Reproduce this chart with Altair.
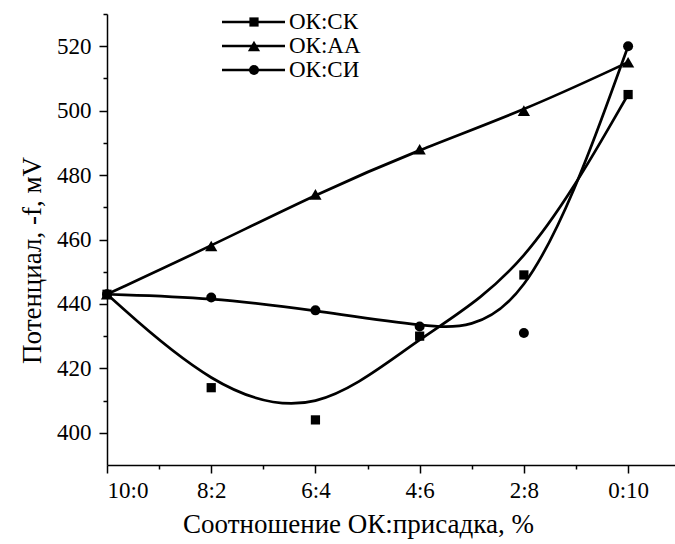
import json
import altair as alt
import pandas as pd

x_labels = ["10:0", "8:2", "6:4", "4:6", "2:8", "0:10"]
x_pos = [0, 1, 2, 3, 4, 5]
series_names = ["ОК:СК", "ОК:АА", "ОК:СИ"]
sk = [443, 414, 404, 430, 449, 505]
aa = [443, 458, 474, 488, 500, 515]
si = [443, 442, 438, 433, 431, 520]
shapes = ["square", "triangle-up", "circle"]
marker_sizes = [85, 150, 100]
y_ticks = list(range(400, 531, 10))
x_ticks = [i / 2 for i in range(0, 11)]

rows = []
for name, vals in zip(series_names, [sk, aa, si]):
    for xi, v in zip(x_pos, vals):
        rows.append({"series": name, "x": xi, "y": v})
df = pd.DataFrame(rows)

leg_df = pd.DataFrame({"series": series_names, "row": [0, 1, 2]})

FONT = "Liberation Serif"
FS = 23
TFS = 27
LW = 2.7

label_expr = "datum.value % 1 === 0 ? " + json.dumps(x_labels) + "[datum.value] : ''"

x_enc = alt.X(
    "x:Q",
    scale=alt.Scale(domain=[0, 5.45], nice=False, zero=False),
    axis=alt.Axis(
        values=x_ticks,
        labelExpr=label_expr,
        tickSize={"condition": {"test": "datum.value % 1 === 0", "value": 8}, "value": 4},
        labelPadding=6,
        labelOverlap=False,
        title="Соотношение ОК:присадка, %",
        titlePadding=9,
        titleX=251,
    ),
)
y_enc = alt.Y(
    "y:Q",
    scale=alt.Scale(domain=[390, 530], nice=False, zero=False),
    axis=alt.Axis(
        values=y_ticks,
        labelExpr="datum.value % 20 === 0 ? datum.label : ''",
        tickSize={"condition": {"test": "datum.value % 20 === 0", "value": 8}, "value": 4},
        labelPadding=8,
        labelOverlap=False,
        title="Потенциал, -f, мV",
        titlePadding=10,
        titleY=246,
    ),
)

lines = alt.Chart(df).mark_line(interpolate="basis", color="black", strokeWidth=LW).encode(
    x=x_enc, y=y_enc, detail="series:N"
)
layers = [lines]
for name, shp, sz in zip(series_names, shapes, marker_sizes):
    layers.append(
        alt.Chart(df).transform_filter(alt.datum.series == name)
        .mark_point(filled=True, color="black", opacity=1, shape=shp, size=sz)
        .encode(x=x_enc, y=y_enc)
    )
main = alt.layer(*layers)

leg_y = alt.Y("row:Q", scale=alt.Scale(domain=[0, 2], range=[8, 56]), axis=None)
leg_layers = [
    alt.Chart(leg_df).mark_rule(color="black", strokeWidth=LW).encode(
        x=alt.value(115), x2=alt.value(178), y=leg_y
    )
]
for name, shp, sz in zip(series_names, shapes, marker_sizes):
    leg_layers.append(
        alt.Chart(leg_df).transform_filter(alt.datum.series == name)
        .mark_point(filled=True, color="black", opacity=1, shape=shp, size=sz)
        .encode(x=alt.value(147), y=leg_y)
    )
leg_layers.append(
    alt.Chart(leg_df).mark_text(
        align="left", baseline="middle", font=FONT, fontSize=FS, color="black"
    ).encode(x=alt.value(182), y=leg_y, text="series:N")
)
legend = alt.layer(*leg_layers)

chart = (
    alt.layer(main, legend)
    .resolve_scale(y="independent")
    .properties(
        width=568,
        height=451,
        padding={"left": 107, "top": 14, "right": 0, "bottom": 79},
        autosize=alt.AutoSizeParams(type="none"),
        background="white",
    )
    .configure_view(stroke=None)
    .configure_axis(
        grid=False,
        domainColor="black",
        domainWidth=1.5,
        tickColor="black",
        tickWidth=1.5,
        labelFont=FONT,
        labelFontSize=FS,
        labelColor="black",
        titleFont=FONT,
        titleFontSize=TFS,
        titleFontWeight="normal",
        titleColor="black",
    )
)

chart.save("out.html", embed_options={"renderer": "svg", "actions": False})
